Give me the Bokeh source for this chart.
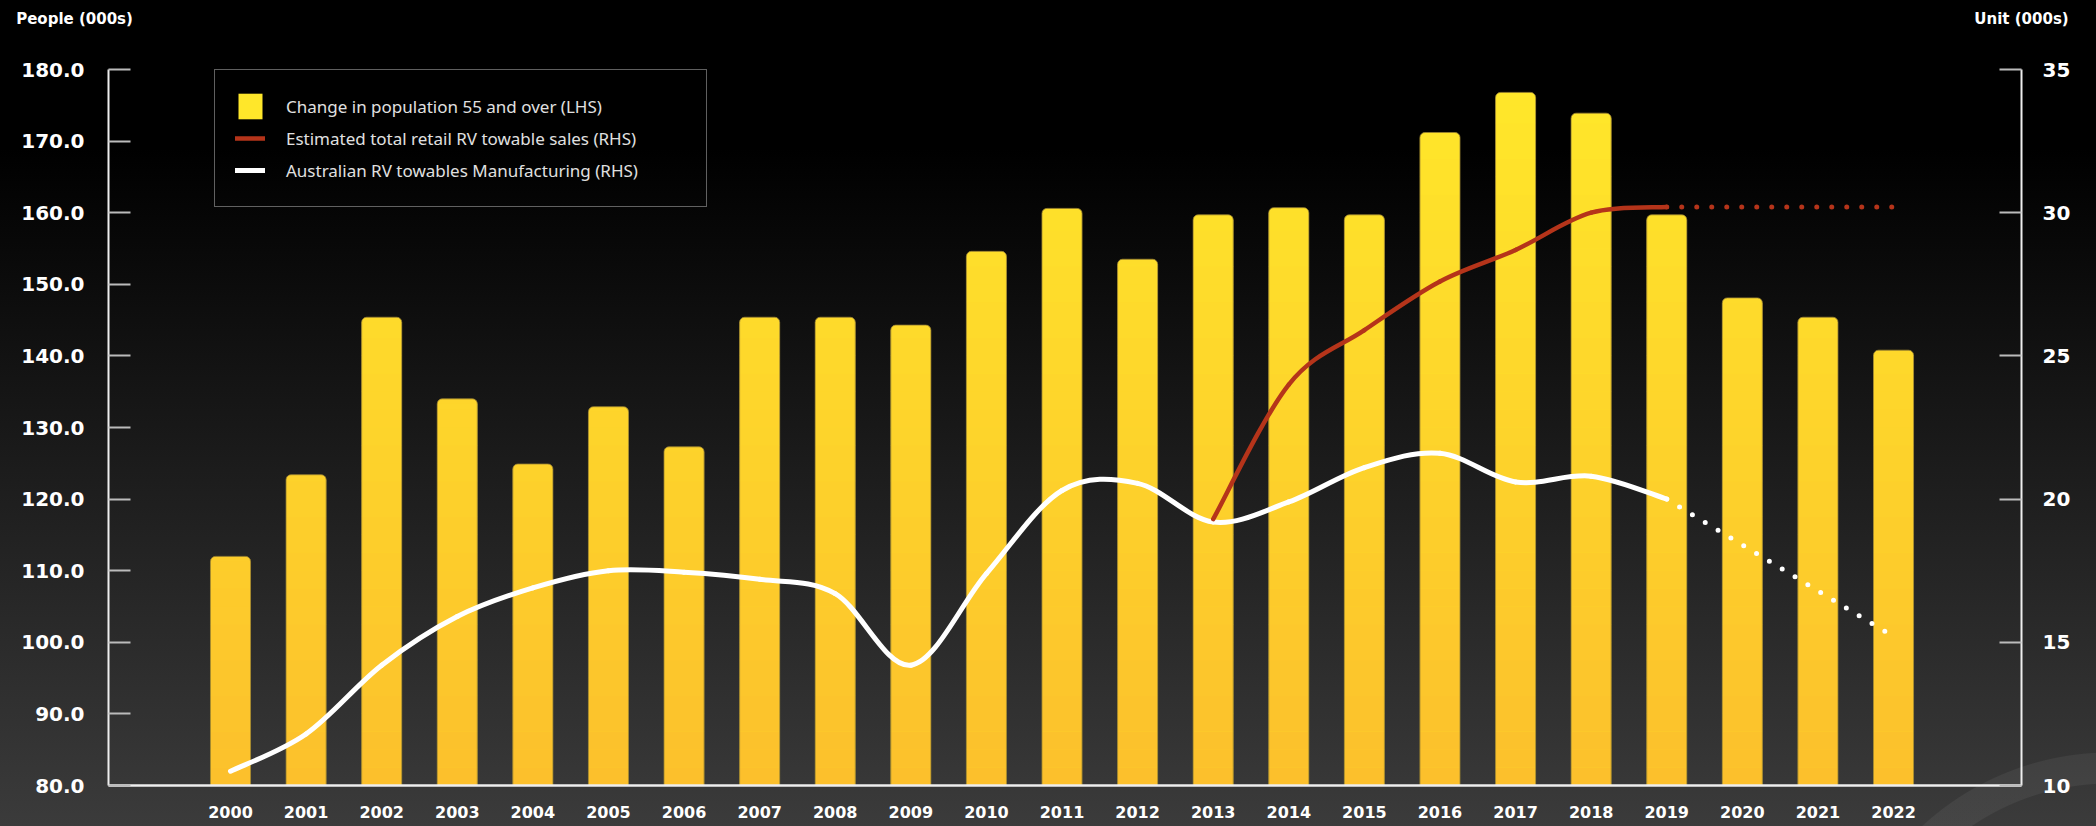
from bokeh.plotting import figure
from bokeh.models import (Range1d, LinearAxis, FixedTicker, NumeralTickFormatter,
                          Legend, LegendItem, ColumnDataSource)
from bokeh.embed import file_html
from bokeh.resources import INLINE
import numpy as np

# ---------------- data ----------------
years = list(range(2000, 2023))
pop_change_55plus = [112.0, 123.4, 145.4, 134.0, 124.9, 132.9, 127.3, 145.4, 145.4, 144.3,
                     154.6, 160.6, 153.5, 159.7, 160.7, 159.7, 171.2, 176.8, 173.9, 159.7,
                     148.1, 145.4, 140.8]

mfg_years = list(range(2000, 2020))
mfg_units = [10.5, 11.8, 14.2, 15.9, 16.9, 17.5, 17.45, 17.2, 16.7, 14.2,
             17.4, 20.3, 20.55, 19.2, 19.9, 21.1, 21.6, 20.6, 20.8, 20.0]
mfg_proj_years = [2019, 2020, 2021, 2022]
mfg_proj_units = [20.0, 18.4, 16.8, 15.2]

sales_years = [2013, 2014, 2015, 2016, 2017, 2018, 2019]
sales_units = [19.3, 24.0, 25.9, 27.6, 28.7, 30.0, 30.2]
sales_proj_years = [2019, 2020, 2021, 2022]
sales_proj_units = [30.2, 30.2, 30.2, 30.2]

left_ticks = [80, 90, 100, 110, 120, 130, 140, 150, 160, 170, 180]
right_ticks = [10, 15, 20, 25, 30, 35]

labels = ["Change in population 55 and over (LHS)",
          "Estimated total retail RV towable sales (RHS)",
          "Australian RV towables Manufacturing (RHS)"]
left_title = "People (000s)"
right_title = "Unit (000s)"

# ---------------- styling helpers ----------------
TOP_RGB = np.array([255, 232, 42])
BOT_RGB = np.array([252, 192, 44])


def bar_color(v):
    t = min(max((v - 80.0) / 100.0, 0.0), 1.0)
    c = BOT_RGB + (TOP_RGB - BOT_RGB) * t
    return "#%02x%02x%02x" % tuple(int(round(k)) for k in c)


def catmull_rom(xs, ys):
    n = len(xs)
    d = dict(x0=[], y0=[], x1=[], y1=[], cx0=[], cy0=[], cx1=[], cy1=[])
    for i in range(n - 1):
        xp, yp = (xs[i - 1], ys[i - 1]) if i > 0 else (xs[i], ys[i])
        xn, yn = (xs[i + 2], ys[i + 2]) if i + 2 < n else (xs[i + 1], ys[i + 1])
        d["x0"].append(xs[i]); d["y0"].append(ys[i])
        d["x1"].append(xs[i + 1]); d["y1"].append(ys[i + 1])
        d["cx0"].append(xs[i] + (xs[i + 1] - xp) / 6.0)
        d["cy0"].append(ys[i] + (ys[i + 1] - yp) / 6.0)
        d["cx1"].append(xs[i + 1] - (xn - xs[i]) / 6.0)
        d["cy1"].append(ys[i + 1] - (yn - ys[i]) / 6.0)
    return ColumnDataSource(d)


# ---------------- figure ----------------
FRAME_L, FRAME_R = 108, 2021
p = figure(width=2096, height=826,
           x_range=Range1d(1998.386, 2023.693), y_range=Range1d(80, 180),
           output_backend="svg", toolbar_location=None,
           min_border_left=FRAME_L, min_border_right=2096 - FRAME_R,
           min_border_top=69, min_border_bottom=41,
           background_fill_alpha=0, border_fill_alpha=0, outline_line_color=None)
p.styles = {"background": "radial-gradient(circle at 2110px 1029px, rgba(255,255,255,0) 245px, "
                          "rgba(255,255,255,0.055) 246px, rgba(255,255,255,0.055) 276px, "
                          "rgba(255,255,255,0) 277px), "
                          "linear-gradient(to bottom, #000000 0%, #000000 18%, #3b3b3b 100%)"}
p.extra_y_ranges = {"right": Range1d(10, 35)}
p.extra_x_ranges = {"edges": Range1d(0, 1)}
p.grid.visible = False

# bars: full rounded bar (top colour), gradient bands, then outline
BAR_W = 0.53
full_src = ColumnDataSource(dict(x=years, top=pop_change_55plus,
                                 color=[bar_color(v - 0.3) for v in pop_change_55plus]))
bar_r = p.vbar(x="x", top="top", bottom=80, width=BAR_W, source=full_src,
               fill_color="color", line_color=None, border_radius=(5, 5, 0, 0))

bx, blo, bhi, bcol = [], [], [], []
for yr, v in zip(years, pop_change_55plus):
    for lo in np.arange(80.0, 180.0, 2.5):
        hi = min(lo + 2.55, v - 0.7)
        if hi > lo:
            bx.append(yr); blo.append(lo); bhi.append(hi); bcol.append(bar_color(lo + 1.25))
p.vbar(x=bx, bottom=blo, top=bhi, width=BAR_W, fill_color=bcol, line_color=None)
p.vbar(x="x", top="top", bottom=80, width=BAR_W, source=full_src, fill_alpha=0,
       line_color="#9a8232", line_width=1, line_alpha=0.8, border_radius=(5, 5, 0, 0))

# lines (right axis)
WHITE = "#ffffff"
RED = "#b5341a"
mfg_r = p.bezier(x0="x0", y0="y0", x1="x1", y1="y1", cx0="cx0", cy0="cy0", cx1="cx1", cy1="cy1",
                 source=catmull_rom(mfg_years, mfg_units), y_range_name="right",
                 line_color=WHITE, line_width=5, line_cap="round")
p.line(mfg_proj_years, mfg_proj_units, y_range_name="right", line_color=WHITE,
       line_width=5, line_dash="0 15", line_cap="round")
sales_r = p.bezier(x0="x0", y0="y0", x1="x1", y1="y1", cx0="cx0", cy0="cy0", cx1="cx1", cy1="cy1",
                   source=catmull_rom(sales_years, sales_units), y_range_name="right",
                   line_color=RED, line_width=4.5, line_cap="round")
p.line(sales_proj_years, sales_proj_units, y_range_name="right", line_color=RED,
       line_width=5, line_dash="0 15", line_cap="round")

# axes
TICK_FONT = "DejaVu Sans"
xa = p.xaxis[0]
xa.ticker = FixedTicker(ticks=years)
xa.major_tick_in = 0
xa.major_tick_out = 0
xa.minor_tick_line_color = None
xa.axis_line_color = "#eeeeee"
xa.axis_line_width = 2.5
xa.major_label_standoff = 20
xa.major_label_text_font = TICK_FONT
xa.major_label_text_font_style = "bold"
xa.major_label_text_font_size = "16px"
xa.major_label_text_color = "#ffffff"

ya = p.yaxis[0]
ya.ticker = FixedTicker(ticks=left_ticks)
ya.formatter = NumeralTickFormatter(format="0.0")
ya.major_tick_in = 22
ya.major_tick_out = 0
ya.minor_tick_line_color = None
ya.major_tick_line_color = "#bbbbbb"
ya.major_tick_line_width = 2
ya.axis_line_color = "#eeeeee"
ya.axis_line_width = 2
ya.major_label_standoff = 24
ya.major_label_text_font = TICK_FONT
ya.major_label_text_font_style = "bold"
ya.major_label_text_font_size = "20px"
ya.major_label_text_color = "#ffffff"

ra = LinearAxis(y_range_name="right", ticker=FixedTicker(ticks=right_ticks),
                formatter=NumeralTickFormatter(format="0"),
                major_tick_in=22, major_tick_out=0, minor_tick_line_color=None,
                major_tick_line_color="#bbbbbb", major_tick_line_width=2,
                axis_line_color="#eeeeee", axis_line_width=2,
                major_label_standoff=21, major_label_text_font=TICK_FONT,
                major_label_text_font_style="bold", major_label_text_font_size="20px",
                major_label_text_color="#ffffff")
p.add_layout(ra, "right")

# axis unit titles: an above axis whose two ticks sit at the frame's left and right edges
# (non-breaking spaces pad the left title so that it starts near the page edge)
ta = LinearAxis(x_range_name="edges", ticker=FixedTicker(ticks=[0, 1]),
                major_label_overrides={0: left_title + "\u00a0" * 13, 1: right_title},
                axis_line_color=None, major_tick_line_color=None, minor_tick_line_color=None,
                major_tick_in=0, major_tick_out=0, major_label_standoff=42,
                major_label_text_font=TICK_FONT, major_label_text_font_style="bold",
                major_label_text_font_size="15px", major_label_text_color="#ffffff")
p.add_layout(ta, "above")

# legend
legend = Legend(items=[LegendItem(label=labels[0], renderers=[bar_r], index=17),
                       LegendItem(label=labels[1], renderers=[sales_r]),
                       LegendItem(label=labels[2], renderers=[mfg_r])],
                location=(106, 578), padding=20, spacing=0, margin=0,
                glyph_width=30, glyph_height=32, label_standoff=21, label_width=400,
                border_line_color="#bdbdbd", border_line_width=1, background_fill_alpha=0,
                label_text_color="#e0e0e0", label_text_font="Noto Sans",
                label_text_font_size="17px")
p.add_layout(legend)

open("out.html", "w").write(file_html(p, INLINE))
